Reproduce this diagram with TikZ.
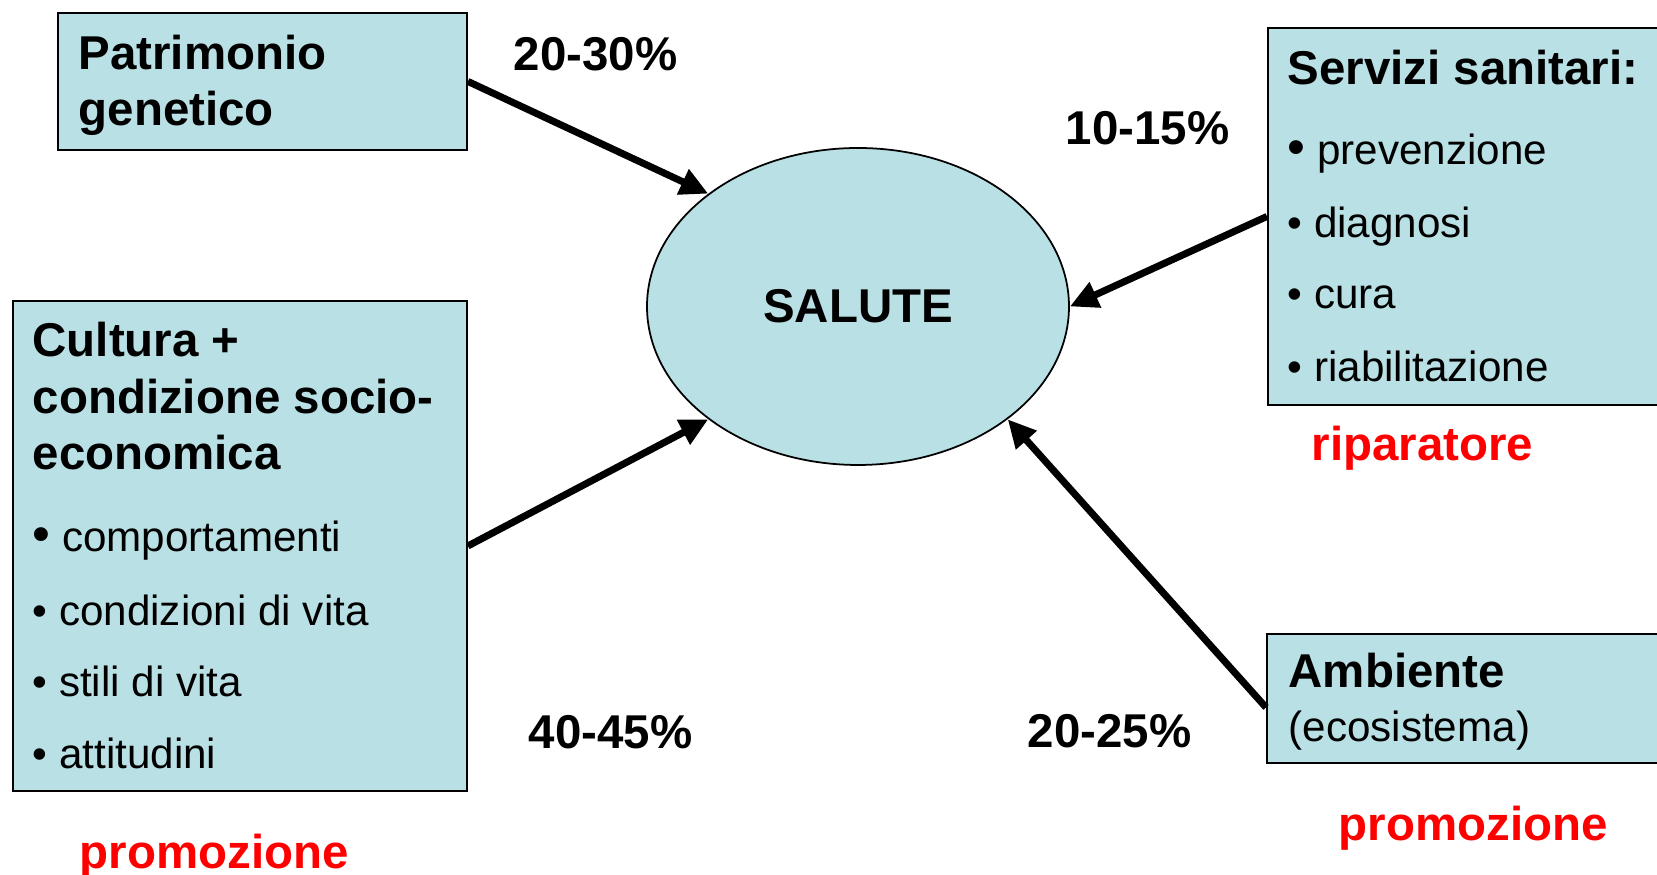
\documentclass[tikz,border=0pt]{standalone}
\usepackage{fontspec}
\setmainfont{Liberation Sans}
\usetikzlibrary{shapes.geometric,arrows.meta}
\definecolor{boxblue}{RGB}{185,224,228}
\newcommand{\bigbullet}{{\fontsize{14.5}{14}\selectfont\textbullet}}

\begin{document}
\begin{tikzpicture}[x=0.1mm,y=-0.1mm,
	box/.style={draw,line width=0.55pt,fill=boxblue,anchor=north west,inner sep=0pt},
	big/.style={anchor=base west,inner sep=0pt,font=\fontsize{13.5}{16}\selectfont\bfseries},
	small/.style={anchor=base west,inner sep=0pt,font=\fontsize{12}{14}\selectfont},
	hint/.style={big,text=red},
	arr/.style={line width=2pt,-{Triangle[length=8pt,width=7.5pt]}}]
			\clip (0,0) rectangle (1657,875);
			\node[box,minimum width=40.9mm,minimum height=13.7mm] (PG) at (57,12) {};
			\node[box,minimum width=43.3mm,minimum height=37.7mm] (SS) at (1267,27) {};
			\node[box,minimum width=45.4mm,minimum height=49mm] (CU) at (12,300) {};
			\node[box,minimum width=43.4mm,minimum height=12.9mm] (AM) at (1266,633) {};
			\node[draw,ellipse,line width=0.5pt,fill=boxblue,minimum width=42.2mm,minimum height=31.7mm,inner sep=0pt,font=\fontsize{13.5}{16}\selectfont\bfseries] (SA) at (858,306.5) {\raisebox{-0.2mm}{SALUTE}};
			
			\node[big] (PGa) at (78,70) {Patrimonio};
			\node[big] (PGb) at (78,126) {genetico};
			
			\node[big] (SSa) at (1287,85) {Servizi sanitari:};
			\node[small] (SSb) at (1287,165) {\bigbullet\ prevenzione};
			\node[small] (SSc) at (1287,238) {\textbullet\ diagnosi};
			\node[small] (SSd) at (1287,309) {\textbullet\ cura};
			\node[small] (SSe) at (1287,382) {\textbullet\ riabilitazione};
			
			\node[big] (CUa) at (32,357) {Cultura +};
			\node[big] (CUb) at (32,414) {condizione socio-};
			\node[big] (CUc) at (32,470) {economica};
			\node[small] (CUd) at (32,552) {\bigbullet\ comportamenti};
			\node[small] (CUe) at (32,626) {\textbullet\ condizioni di vita};
			\node[small] (CUf) at (32,697) {\textbullet\ stili di vita};
			\node[small] (CUg) at (32,769) {\textbullet\ attitudini};
			
			\node[big] (AMa) at (1288,688) {Ambiente};
			\node[small] (AMb) at (1288,742) {(ecosistema)};
			
			\node[big] (PA) at (513,71) {20-30\%};
			\node[big] (PB) at (1065,145) {10-15\%};
			\node[big] (PC) at (528,749) {40-45\%};
			\node[big] (PD) at (1027,748) {20-25\%};
			
			\node[hint] (RA) at (1311,461) {riparatore};
			\node[hint] (RB) at (1338,841) {promozione};
			\node[hint] (RC) at (79,869) {promozione};
			
			\draw[arr] (PG.east)--(SA.143);
			\draw[arr] (SS.west)--(SA.east);
			\draw[arr] (CU.east)--(SA.217);
			\draw[arr] ([yshift=-0.9mm]AM.west)--(SA.323);
\end{tikzpicture}
\end{document}
